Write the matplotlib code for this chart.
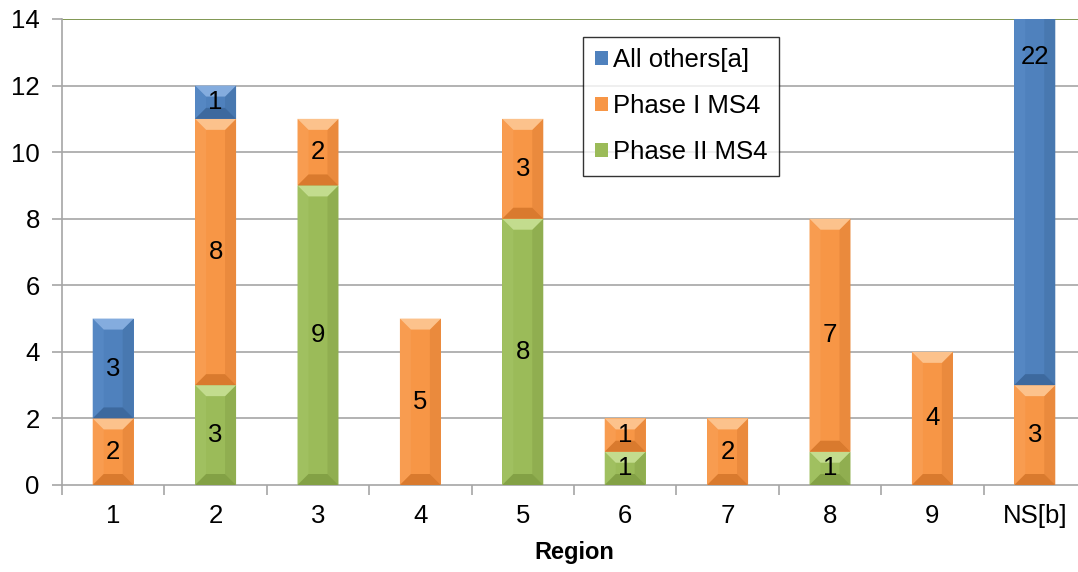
import numpy as np
import matplotlib
matplotlib.use("Agg")
import matplotlib.pyplot as plt
from matplotlib.patches import Polygon, Patch

plt.rcParams['font.family'] = ['Liberation Sans', 'DejaVu Sans']

regions = ['1', '2', '3', '4', '5', '6', '7', '8', '9', 'NS[b]']
phase2 = [0, 3, 9, 0, 8, 1, 0, 1, 0, 0]
phase1 = [2, 8, 2, 5, 3, 1, 2, 7, 4, 3]
others = [3, 1, 0, 0, 0, 0, 0, 0, 0, 22]

# name, values, face colour, (top, bottom, left, right) bevel shades
series = [
    ('Phase II MS4', phase2, '#9BBB59', ('#C3DC8E', '#83A145', '#A0C060', '#90AE50')),
    ('Phase I MS4', phase1, '#F79646', ('#FCC28C', '#D97A2E', '#F89C50', '#EA8A3D')),
    ('All others[a]', others, '#4F81BD', ('#84ACDE', '#3D699E', '#5587C3', '#4878B0')),
]

fig = plt.figure(figsize=(10.78, 5.72), dpi=100)
ax = fig.add_axes([62 / 1078, 87 / 572, 1024 / 1078, 466 / 572])

ymax = 14
x = np.arange(len(regions))
width = 0.4
ax.set_xlim(-0.5, len(regions) - 0.5)
ax.set_ylim(0, ymax)

# bevel depth in data units (~11 px each way)
bx = 11 / 102.4
by = 11 / 33.3


def bevel(ax, x0, y0, w, h, shades):
    top, bottom, left, right = shades
    x1, y1 = x0 + w, y0 + h
    d = min(by, h / 2)
    faces = [
        ([(x0, y0), (x0 + bx, y0 + d), (x0 + bx, y1 - d), (x0, y1)], left),
        ([(x1, y0), (x1 - bx, y0 + d), (x1 - bx, y1 - d), (x1, y1)], right),
        ([(x0, y1), (x1, y1), (x1 - bx, y1 - d), (x0 + bx, y1 - d)], top),
        ([(x0, y0), (x1, y0), (x1 - bx, y0 + d), (x0 + bx, y0 + d)], bottom),
    ]
    for pts, c in faces:
        ax.add_patch(Polygon(pts, closed=True, facecolor=c, edgecolor='none',
                             zorder=3))


bottom = np.zeros(len(regions))
for name, vals, color, shades in series:
    vals = np.array(vals, dtype=float)
    bars = ax.bar(x, vals, width, bottom=bottom, color=color, zorder=2,
                  label=name)
    for rect, v, b0 in zip(bars, vals, bottom):
        if v == 0:
            continue
        bevel(ax, rect.get_x(), rect.get_y(), rect.get_width(),
              rect.get_height(), shades)
        yc = min(b0 + v / 2, 12.85)
        ax.text(rect.get_x() + rect.get_width() / 2, yc, f'{int(v)}',
                ha='center', va='center', fontsize=18.5, color='black',
                zorder=4)
    bottom = bottom + vals

# gridlines, with the top one in green
for yv in range(2, ymax, 2):
    ax.axhline(yv, color='#A6A6A6', lw=1.2, zorder=1)
ax.axhline(ymax, color='#6B8535', lw=1.2, zorder=1)

for s in ['top', 'right']:
    ax.spines[s].set_visible(False)
ax.spines['left'].set_color('#A6A6A6')
ax.spines['bottom'].set_color('#A6A6A6')
ax.spines['left'].set_linewidth(1.2)
ax.spines['bottom'].set_linewidth(1.2)

ax.set_yticks(range(0, ymax + 1, 2))
ax.tick_params(axis='y', labelsize=18.5, length=7, width=1.2,
               color='#A6A6A6', pad=9)
ax.set_xticks(x)
ax.set_xticklabels(regions)
ax.set_xticks(np.arange(-0.5, len(regions), 1), minor=True)
ax.tick_params(axis='x', which='major', length=0, labelsize=18.5, pad=14)
ax.tick_params(axis='x', which='minor', length=7, width=1.2, color='#A6A6A6')
ax.set_xlabel('Region', fontsize=17, fontweight='bold', labelpad=9)

handles = [Patch(facecolor=c, edgecolor='none', label=n)
           for n, _, c, _ in series[::-1]]
leg = ax.legend(handles=handles, loc='upper left',
                bbox_to_anchor=(0.509, 0.962), fontsize=18.5, frameon=True,
                fancybox=False, edgecolor='black', handlelength=0.5,
                handleheight=0.5, handletextpad=0.2, labelspacing=0.85,
                borderpad=0.45, borderaxespad=0)
leg.get_frame().set_linewidth(1.0)

fig.savefig('out.png', dpi=100)
